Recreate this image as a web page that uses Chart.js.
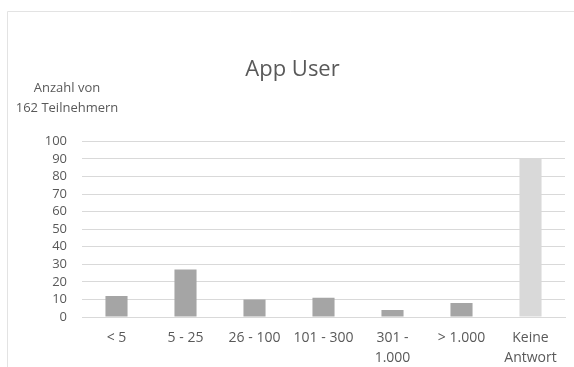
<!DOCTYPE html>
<html>
<head>
<meta charset="utf-8">
<script src="https://cdn.jsdelivr.net/npm/chart.js@4"></script>
<style>
  html, body { margin: 0; padding: 0; background: #fff; }
  #wrap { width: 574px; height: 367px; }
</style>
</head>
<body>
<div id="wrap"><canvas id="appChart"></canvas></div>
<script>
const categories = ['< 5', '5 - 25', '26 - 100', '101 - 300', ['301 -', '1.000'], '> 1.000', ['Keine', 'Antwort']];
const userCounts = [12, 27, 10, 11, 4, 8, 90];
const barColors = ['#a5a5a5', '#a5a5a5', '#a5a5a5', '#a5a5a5', '#a5a5a5', '#a5a5a5', '#d9d9d9'];
const yTicks = [0, 10, 20, 30, 40, 50, 60, 70, 80, 90, 100];
const chartTitle = 'App User';
const yAxisLabel = ['Anzahl von', '162 Teilnehmern'];

const textGray = '#595959';
const gridGray = '#d9d9d9';

// Rahmen + Achsenbeschriftung oben links
const decor = {
  id: 'decor',
  beforeDraw(chart) {
    const c = chart.ctx;
    c.save();
    c.fillStyle = '#fff';
    c.fillRect(0, 0, chart.width, chart.height);
    c.strokeStyle = '#e3e3e3';
    c.lineWidth = 1;
    c.beginPath();
    c.moveTo(7.5, chart.height);
    c.lineTo(7.5, 11.5);
    c.lineTo(chart.width, 11.5);
    c.stroke();
    c.restore();
  },
  afterDraw(chart) {
    const c = chart.ctx;
    c.save();
    c.fillStyle = textGray;
    c.font = '13px "Open Sans"';
    c.textAlign = 'center';
    c.textBaseline = 'middle';
    yAxisLabel.forEach((line, i) => c.fillText(line, 67, 88 + i * 20));
    c.restore();
  }
};

new Chart(document.getElementById('appChart'), {
  type: 'bar',
  data: {
    labels: categories,
    datasets: [{
      data: userCounts,
      backgroundColor: barColors,
      borderWidth: 0,
      barPercentage: 0.32,
      categoryPercentage: 1
    }]
  },
  plugins: [decor],
  options: {
    responsive: true,
    maintainAspectRatio: false,
    animation: false,
    layout: { padding: { top: 57, left: 20, right: 9, bottom: 0 } },
    plugins: {
      legend: { display: false },
      tooltip: { enabled: false },
      title: {
        display: true,
        text: chartTitle,
        color: textGray,
        font: { family: 'Open Sans', size: 22, weight: 'normal' },
        padding: { top: 0, bottom: 58 }
      }
    },
    scales: {
      x: {
        afterFit: (s) => { s.height = 50; },
        grid: { display: false, drawTicks: false },
        border: { display: true, color: gridGray, width: 1 },
        ticks: {
          color: textGray,
          font: { family: 'Open Sans', size: 14, lineHeight: 1.43 },
          padding: 11,
          maxRotation: 0,
          autoSkip: false
        }
      },
      y: {
        min: 0,
        max: 100,
        afterFit: (s) => { s.width = 62; },
        afterBuildTicks: (s) => { s.ticks = yTicks.map(v => ({ value: v })); },
        grid: { color: gridGray, lineWidth: 1, drawTicks: false },
        border: { display: false },
        ticks: {
          color: textGray,
          font: { family: 'Open Sans', size: 13 },
          padding: 15,
          autoSkip: false
        }
      }
    }
  }
});
</script>
</body>
</html>
